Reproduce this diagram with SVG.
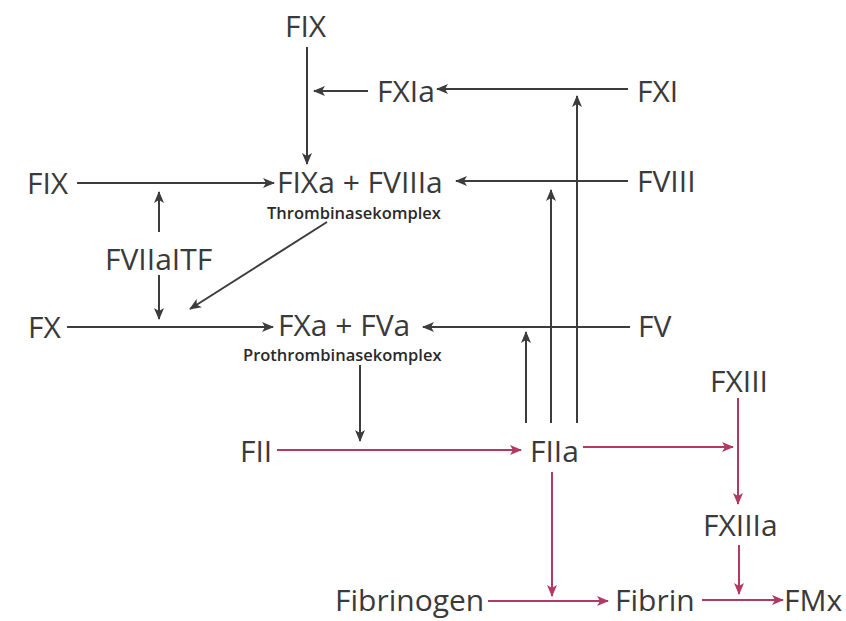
<svg xmlns="http://www.w3.org/2000/svg" width="846" height="621" viewBox="0 0 846 621">
<defs>
<style>
.t{font-family:"Open Sans","Liberation Sans",sans-serif;font-size:30px;fill:#3a3a3a;}
.s{font-family:"Open Sans","Liberation Sans",sans-serif;font-size:16.5px;font-weight:600;fill:#2a2a2a;}
.k{stroke:#3c3c3c;stroke-width:2;fill:none;marker-end:url(#ak);}
.r{stroke:#b03a62;stroke-width:2;fill:none;marker-end:url(#ar);}
</style>
<marker id="ak" viewBox="0 0 12 10" refX="11" refY="5" markerWidth="13" markerHeight="10" markerUnits="userSpaceOnUse" orient="auto">
<path d="M0,0 L12,5 L0,10 L3,5 Z" fill="#3c3c3c"/>
</marker>
<marker id="ar" viewBox="0 0 12 10" refX="11" refY="5" markerWidth="13" markerHeight="10" markerUnits="userSpaceOnUse" orient="auto">
<path d="M0,0 L12,5 L0,10 L3,5 Z" fill="#b03a62"/>
</marker>
</defs>
<rect width="846" height="621" fill="#ffffff"/>
<g id="connectors">
<line class="k" x1="307" y1="47" x2="307" y2="164"/>
<line class="k" x1="368" y1="91" x2="314" y2="91"/>
<line class="k" x1="628" y1="89" x2="437" y2="89"/>
<line class="k" x1="77" y1="183" x2="274" y2="183"/>
<line class="k" x1="159" y1="232" x2="159" y2="192"/>
<line class="k" x1="159" y1="275" x2="159" y2="319"/>
<line class="k" x1="327" y1="222" x2="190" y2="309"/>
<line class="k" x1="67" y1="327" x2="273" y2="327"/>
<line class="k" x1="628" y1="181" x2="456" y2="181"/>
<line class="k" x1="630" y1="327" x2="423" y2="327"/>
<line class="k" x1="526" y1="423" x2="526" y2="332"/>
<line class="k" x1="551" y1="423" x2="551" y2="190"/>
<line class="k" x1="577" y1="423" x2="577" y2="96"/>
<line class="k" x1="360" y1="365" x2="360" y2="441"/>
<line class="r" x1="277" y1="450" x2="521" y2="450"/>
<line class="r" x1="583" y1="447" x2="733" y2="447"/>
<line class="r" x1="738" y1="398" x2="738" y2="504"/>
<line class="r" x1="552" y1="472" x2="552" y2="596"/>
<line class="r" x1="739" y1="545" x2="739" y2="594"/>
<line class="r" x1="488" y1="601" x2="608" y2="601"/>
<line class="r" x1="702" y1="600" x2="783" y2="600"/>
</g>
<g id="n-fix-top"><text class="t" x="285" y="37">FIX</text></g>
<g id="n-fxia"><text class="t" x="377" y="102">FXIa</text></g>
<g id="n-fxi"><text class="t" x="637" y="102">FXI</text></g>
<g id="n-fix-left"><text class="t" x="27" y="194">FIX</text></g>
<g id="n-fixa-fviiia"><text class="t" x="277" y="193">FIXa + FVIIIa</text><text class="s" x="267" y="219">Thrombinasekomplex</text></g>
<g id="n-fviii"><text class="t" x="637" y="192">FVIII</text></g>
<g id="n-fviiaitf"><text class="t" x="105" y="270">FVIIaITF</text></g>
<g id="n-fx"><text class="t" x="28" y="338">FX</text></g>
<g id="n-fxa-fva"><text class="t" x="278" y="336">FXa + FVa</text><text class="s" x="243" y="361">Prothrombinasekomplex</text></g>
<g id="n-fv"><text class="t" x="638" y="337">FV</text></g>
<g id="n-fxiii"><text class="t" x="710" y="392">FXIII</text></g>
<g id="n-fii"><text class="t" x="240" y="462">FII</text></g>
<g id="n-fiia"><text class="t" x="530" y="462">FIIa</text></g>
<g id="n-fxiiia"><text class="t" x="703" y="536">FXIIIa</text></g>
<g id="n-fibrinogen"><text class="t" x="335" y="611">Fibrinogen</text></g>
<g id="n-fibrin"><text class="t" x="615" y="611">Fibrin</text></g>
<g id="n-fmx"><text class="t" x="784" y="611">FMx</text></g>
</svg>
